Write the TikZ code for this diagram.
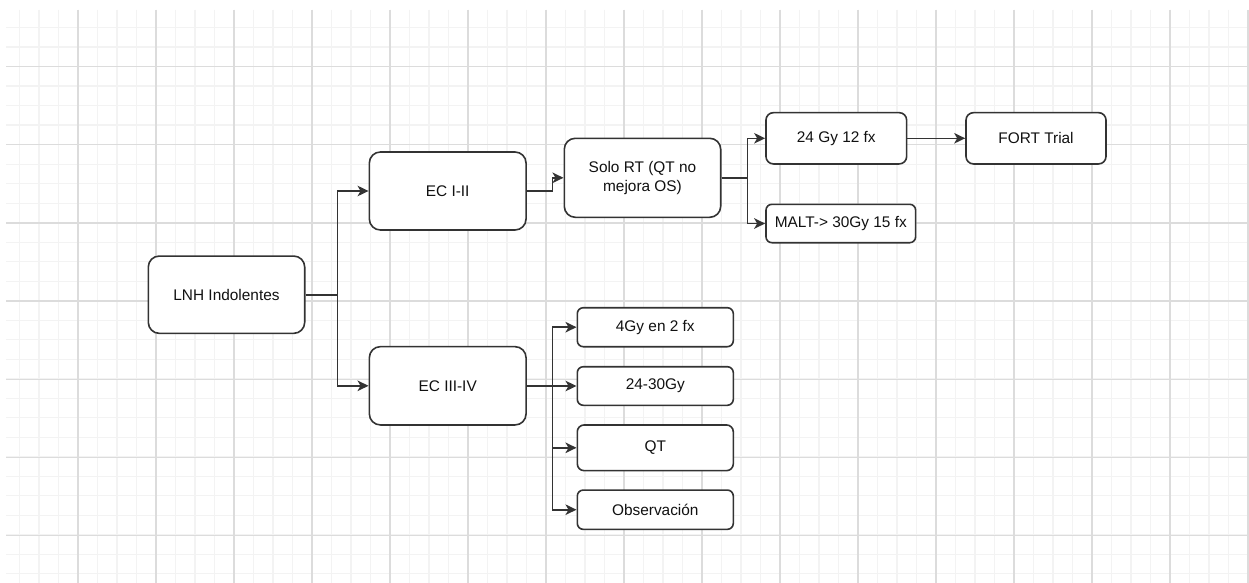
\documentclass[tikz,border=0pt]{standalone}
\usepackage{fontspec}
\setmainfont{Liberation Sans}
\usetikzlibrary{arrows.meta}
\definecolor{minorgrid}{HTML}{F3F3F3}
\definecolor{majorgrid}{HTML}{DCDCDC}
\definecolor{ink}{HTML}{333333}
\definecolor{txt}{HTML}{111111}
\tikzset{
  box/.style={draw=ink, line width=1.6pt, fill=white, text=txt, rounded corners=#1,
    inner sep=0pt, align=center, font=\fontsize{15.4}{18.5}\selectfont},
  box/.default=11pt,
  arr/.style={draw=ink, line width=1.6pt, -{Stealth[length=11pt,width=10.5pt,inset=3pt]}},
}
\begin{document}
\begin{tikzpicture}[x=1pt,y=-1pt]
\useasboundingbox (0,0) rectangle (1249,583);
\fill[white] (0,0) rectangle (1249,583);
% grid
\begin{scope}
\clip (6,10) rectangle (1249,583);
\foreach \i in {0,...,64} {
  \draw[minorgrid, line width=1.4pt] ({19.5*\i},10) -- ({19.5*\i},583);
}
\foreach \i in {-3,...,27} {
  \draw[minorgrid, line width=1.4pt] (6,{66.7+19.5*\i}) -- (1249,{66.7+19.5*\i});
}
\foreach \i in {0,...,16} {
  \draw[majorgrid, line width=1.2pt] ({78*\i},10) -- ({78*\i},583);
}
\foreach \i in {0,...,6} {
  \draw[majorgrid, line width=1.2pt] (6,{66.7+78.1*\i}) -- (1249,{66.7+78.1*\i});
}
\end{scope}
% nodes
\node[box, minimum width=156.4pt, minimum height=77.3pt] (lnh) at (226.5,294.7) {LNH Indolentes};
\node[box, minimum width=156.7pt, minimum height=78pt] (ec12) at (447.7,191) {EC I-II};
\node[box, minimum width=156.7pt, minimum height=78.3pt] (ec34) at (447.7,385.8) {EC III-IV};
\node[box, minimum width=156.4pt, minimum height=79pt] (solo) at (642.5,177.8) {Solo RT (QT no\\mejora OS)};
\node[box=7.5pt, minimum width=140.7pt, minimum height=51.3pt] (g24) at (836.3,138.3) {24 Gy 12 fx};
\node[box=6pt, minimum width=149.7pt, minimum height=38.4pt] (malt) at (840.8,223.5) {MALT-> 30Gy 15 fx};
\node[box=7.5pt, minimum width=140pt, minimum height=51.3pt] (fort) at (1036,138.3) {FORT Trial};
\node[box=6pt, minimum width=156pt, minimum height=39pt] (b1) at (655.3,327.2) {4Gy en 2 fx};
\node[box=6pt, minimum width=156pt, minimum height=38.6pt] (b2) at (655.3,386) {24-30Gy};
\node[box=6.8pt, minimum width=156pt, minimum height=45.7pt] (b3) at (655.3,447.8) {QT};
\node[box=6pt, minimum width=156pt, minimum height=39.3pt] (b4) at (655.3,509.7) {Observación};
% connectors
\draw[arr] (lnh.east) -- ++(32,0) |- (ec12.west);
\draw[arr] (lnh.east) -- ++(32,0) |- (ec34.west);
\draw[arr] (ec12.east) -- ++(25.7,0) |- (solo.west);
\draw[arr] (solo.east) -- ++(26,0) |- (g24.west);
\draw[arr] (solo.east) -- ++(26,0) |- (malt.west);
\draw[arr] (g24.east) -- (fort.west);
\draw[arr] (ec34.east) -- ++(25.7,0) |- (b1.west);
\draw[arr] (ec34.east) -- ++(25.7,0) |- (b2.west);
\draw[arr] (ec34.east) -- ++(25.7,0) |- (b3.west);
\draw[arr] (ec34.east) -- ++(25.7,0) |- (b4.west);
\end{tikzpicture}
\end{document}
